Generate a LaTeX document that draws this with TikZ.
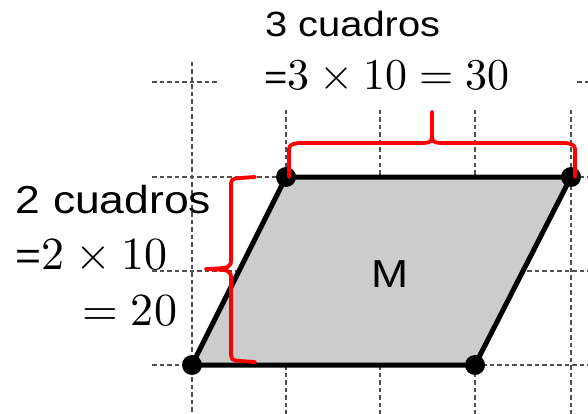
\documentclass[tikz,border=0pt]{standalone}
\usepackage{fontspec}
\newfontfamily\lbl[FakeStretch=1.14]{Liberation Sans}
\newfontfamily\mth{lmroman10-regular}[Extension=.otf]
\newcommand{\msp}{\hspace{0.222em}}
\newcommand{\tsp}{\hspace{0.278em}}
\definecolor{gridc}{HTML}{505050}
\definecolor{shade}{HTML}{CCCCCC}
\begin{document}
\begin{tikzpicture}[x=1pt,y=-1pt,
  gridline/.style={draw=gridc,line width=1.6pt,dash pattern=on 4.5pt off 3pt},
  quadfill/.style={draw=black,line width=5pt,line join=round,fill=shade},
  vertex/.style={circle,fill=black,inner sep=0pt,minimum size=20pt},
  bracec/.style={draw=red,line width=3.8pt,line join=round,line cap=round},
  txt/.style={inner sep=0pt,outer sep=0pt,text=black}]
\useasboundingbox (0,0) rectangle (588,414);
% grid
\draw[gridline] (152,82) -- (218,82);
\draw[gridline] (577,82) -- (588,82);
\foreach \yy in {177,271,365} \draw[gridline] (152,\yy) -- (588,\yy);
\draw[gridline] (192,62) -- (192,414);
\foreach \xx in {286,380,475,571} \draw[gridline] (\xx,110) -- (\xx,414);
% parallelogram
\coordinate (A) at (192,365);
\coordinate (B) at (475,365);
\coordinate (C) at (571,177);
\coordinate (D) at (286,177);
\draw[quadfill] (A) -- (B) -- (C) -- (D) -- cycle;
\node[vertex] (vA) at (A) {};
\node[vertex] (vB) at (B) {};
\node[vertex] (vC) at (C) {};
\node[vertex] (vD) at (D) {};
\node[txt,anchor=base] (M) at (390,287) {\lbl\fontsize{39}{44}\selectfont M};
% top brace
\draw[bracec] (289,177) -- (289,153) .. controls (289,145) .. (298,143) -- (424,143)
  .. controls (432,142) .. (432,132) -- (432,112);
\draw[bracec] (432,112) -- (432,132) .. controls (432,142) .. (440,143) -- (566,143)
  .. controls (575,145) .. (575,153) -- (575,177);
% left brace
\draw[bracec] (255,177) -- (240,178) .. controls (231,179) .. (231,188) -- (231,258)
  .. controls (231,268) .. (206,269);
\draw[bracec] (206,269) .. controls (231,270) .. (231,280) -- (231,350)
  .. controls (231,360) .. (240,361) -- (255,362);
% labels
\node[txt,anchor=base west] (t1) at (265,37) {\lbl\fontsize{35}{40}\selectfont 3 cuadros};
\node[txt,anchor=base west] (t2) at (264,90) {{\lbl\fontsize{35}{40}\selectfont =}{\mth\fontsize{44}{50}\selectfont 3\msp×\msp10\tsp=\tsp30}};
\node[txt,anchor=base west] (l1) at (16,213) {\lbl\fontsize{39}{44}\selectfont 2 cuadros};
\node[txt,anchor=base west] (l2) at (16,269) {{\lbl\fontsize{39}{44}\selectfont =}{\mth\fontsize{46}{52}\selectfont 2\msp×\msp10}};
\node[txt,anchor=base east] (l3) at (177,325) {\mth\fontsize{46}{52}\selectfont =\tsp20};
\end{tikzpicture}
\end{document}
